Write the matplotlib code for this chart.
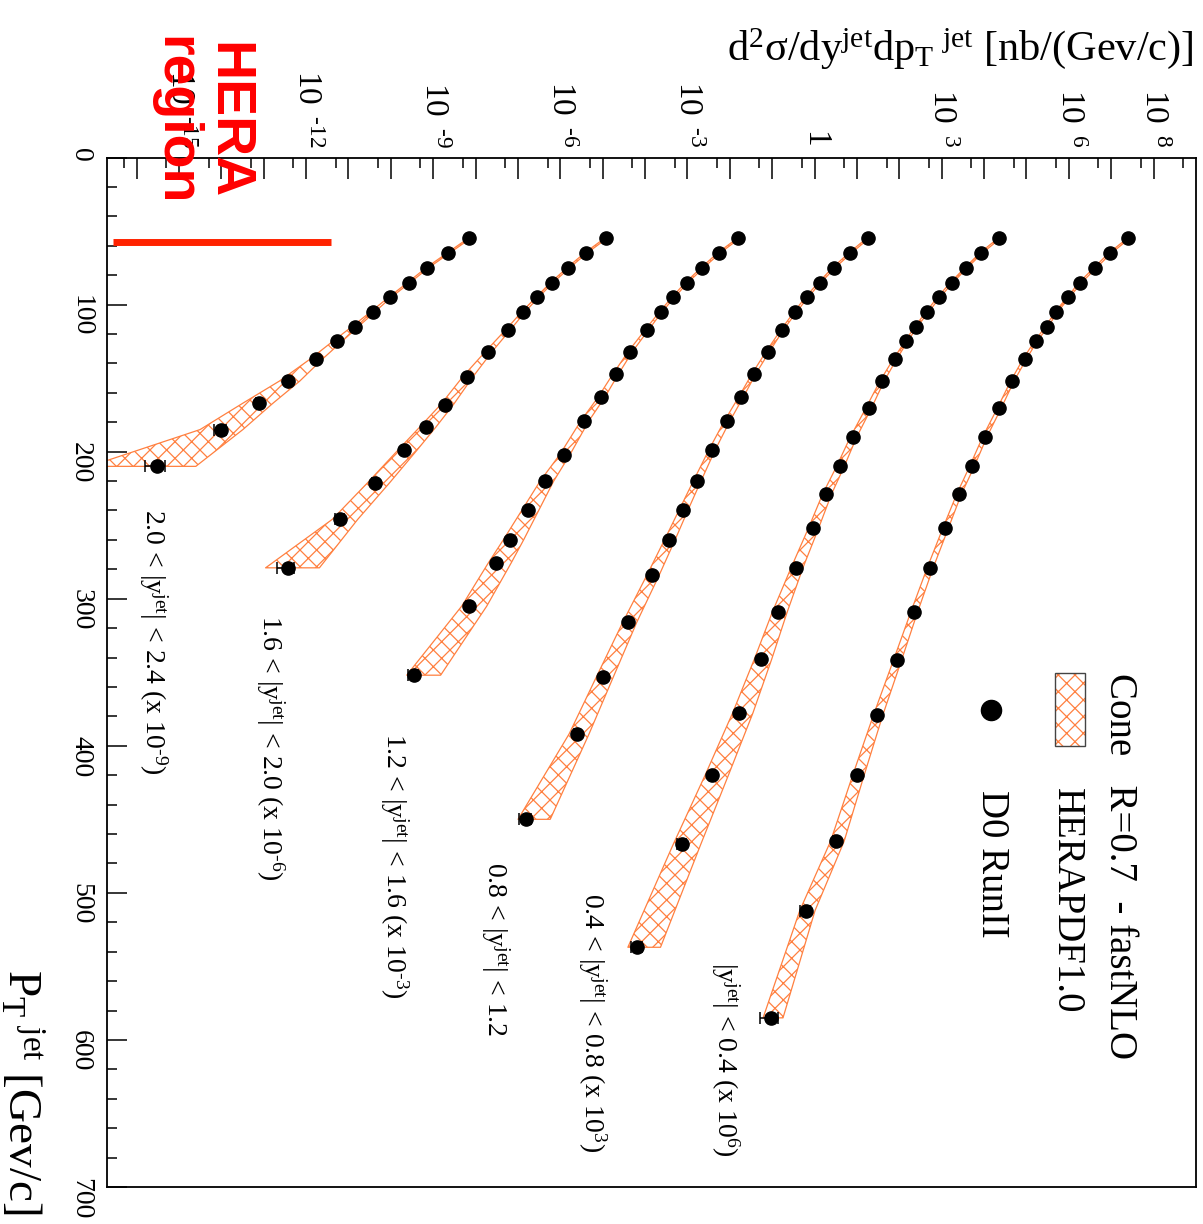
import numpy as np
import matplotlib
matplotlib.use('Agg')
import matplotlib.pyplot as plt
from matplotlib.ticker import FixedLocator, FuncFormatter, NullFormatter
from matplotlib.patches import Rectangle
from matplotlib.lines import Line2D

plt.rcParams['font.family'] = ['Liberation Serif', 'DejaVu Serif']
plt.rcParams['mathtext.fontset'] = 'custom'
plt.rcParams['mathtext.rm'] = 'Liberation Serif'
plt.rcParams['mathtext.it'] = 'Liberation Serif'
plt.rcParams['mathtext.default'] = 'regular'
plt.rcParams['hatch.linewidth'] = 0.9

# D0 Run II inclusive jet cross sections [nb/(GeV/c)], one set per |y| bin
pt_y1 = [55, 65, 75, 85, 95, 105, 115, 125, 137, 152, 170, 190, 210, 229, 252, 279, 309, 342, 379, 420, 465, 512, 585]
xs_y1 = [25.4, 9.38, 4.15, 1.87, 0.973, 0.507, 0.301, 0.165, 0.0910, 0.0463, 0.0229, 0.01035, 5.11e-3,
         2.52e-3, 1.22e-3, 5.21e-4, 2.19e-4, 8.67e-5, 3.02e-5, 1.02e-5, 3.2e-6, 6.17e-7, 9.2e-8]
err_y1 = [0.06] * 17 + [0.07, 0.08, 0.1, 0.14, 0.25, 0.45]
blo_y1 = [0.03] * 8 + [0.04, 0.04, 0.04, 0.05, 0.05, 0.05, 0.06, 0.06, 0.07, 0.08, 0.09, 0.11, 0.13, 0.14, 0.18]
bhi_y1 = [0.03] * 8 + [0.04, 0.04, 0.05, 0.05, 0.06, 0.06, 0.07, 0.08, 0.09, 0.11, 0.13, 0.16, 0.19, 0.22, 0.29]

pt_y2 = [55, 65, 75, 85, 95, 105, 115, 125, 137, 152, 170, 190, 210, 229, 252, 279, 309, 341, 378, 420, 467, 537]
xs_y2 = [22.5, 8.45, 3.74, 1.72, 0.851, 0.457, 0.247, 0.146, 0.0791, 0.0390, 0.0189, 8.2e-3, 3.97e-3,
         1.89e-3, 9.0e-4, 3.58e-4, 1.36e-4, 5.35e-5, 1.66e-5, 3.85e-6, 7.3e-7, 6.5e-8]
err_y2 = [0.06] * 16 + [0.07, 0.08, 0.1, 0.13, 0.24, 0.3]
blo_y2 = [0.03] * 8 + [0.04, 0.05, 0.06, 0.07, 0.08, 0.09, 0.1, 0.11, 0.13, 0.15, 0.16, 0.17, 0.2, 0.22]
bhi_y2 = [0.03] * 8 + [0.04, 0.05, 0.07, 0.08, 0.1, 0.12, 0.14, 0.17, 0.22, 0.26, 0.32, 0.38, 0.45, 0.55]

pt_y3 = [55, 65, 75, 85, 95, 105, 117, 132, 147, 163, 179, 199, 220, 240, 260, 284, 316, 353, 392, 450]
xs_y3 = [17.9, 6.84, 2.82, 1.32, 0.650, 0.351, 0.173, 0.0782, 0.0366, 0.0180, 8.57e-3, 3.72e-3, 1.65e-3,
         7.71e-4, 3.60e-4, 1.45e-4, 4.01e-5, 1.03e-5, 2.43e-6, 1.55e-7]
err_y3 = [0.06] * 15 + [0.07, 0.08, 0.1, 0.14, 0.3]
blo_y3 = [0.03] * 7 + [0.04, 0.04, 0.05, 0.06, 0.07, 0.08, 0.09, 0.1, 0.12, 0.13, 0.16, 0.18, 0.19]
bhi_y3 = [0.03] * 7 + [0.04, 0.05, 0.06, 0.07, 0.08, 0.1, 0.12, 0.15, 0.17, 0.2, 0.24, 0.29, 0.57]

pt_y4 = [55, 65, 75, 85, 95, 105, 117, 132, 147, 163, 179, 202, 220, 240, 260, 276, 305, 352]
xs_y4 = [15.8, 5.45, 2.24, 0.957, 0.462, 0.233, 0.111, 0.0447, 0.0202, 9.1e-3, 3.67e-3, 1.22e-3, 4.39e-4,
         1.69e-4, 6.5e-5, 2.97e-5, 6.97e-6, 3.5e-7]
err_y4 = [0.06] * 13 + [0.07, 0.08, 0.1, 0.13, 0.28]
blo_y4 = [0.03] * 6 + [0.04, 0.05, 0.06, 0.07, 0.08, 0.1, 0.12, 0.14, 0.16, 0.18, 0.17, 0.17]
bhi_y4 = [0.03] * 6 + [0.04, 0.05, 0.07, 0.09, 0.11, 0.14, 0.2, 0.26, 0.32, 0.36, 0.42, 0.63]

pt_y5 = [55, 65, 75, 85, 95, 105, 117, 132, 149, 168, 183, 199, 221, 246, 279]
xs_y5 = [11.7, 3.96, 1.54, 0.632, 0.285, 0.134, 0.0581, 0.0199, 6.15e-3, 1.89e-3, 6.62e-4, 2.07e-4,
         4.22e-5, 6.3e-6, 3.66e-7]
err_y5 = [0.06] * 10 + [0.08, 0.1, 0.14, 0.24, 0.45]
blo_y5 = [0.03] * 5 + [0.04, 0.05, 0.07, 0.09, 0.1, 0.13, 0.15, 0.17, 0.18, 0.52]
bhi_y5 = [0.03] * 5 + [0.04, 0.06, 0.09, 0.15, 0.2, 0.25, 0.3, 0.35, 0.42, 0.75]

pt_y6 = [55, 65, 75, 85, 95, 105, 115, 125, 137, 152, 167, 185, 210]
xs_y6 = [7.08, 2.26, 0.723, 0.267, 0.0953, 0.0372, 0.0142, 5.35e-3, 1.73e-3, 3.72e-4, 7.59e-5, 9.93e-6, 3.07e-7]
err_y6 = [0.06] * 8 + [0.08, 0.1, 0.15, 0.32, 0.5]
blo_y6 = [0.03] * 5 + [0.05, 0.07, 0.1, 0.14, 0.2, 0.37, 0.5, 1.6]
bhi_y6 = [0.03] * 5 + [0.05, 0.08, 0.12, 0.15, 0.28, 0.34, 0.51, 0.91]

scales = [1e6, 1e3, 1.0, 1e-3, 1e-6, 1e-9]
bin_labels = ['|y$^{jet}$| < 0.4 (x 10$^{6}$)',
              '0.4 < |y$^{jet}$| < 0.8 (x 10$^{3}$)',
              '0.8 < |y$^{jet}$| < 1.2',
              '1.2 < |y$^{jet}$| < 1.6 (x 10$^{\\text{-}3}$)',
              '1.6 < |y$^{jet}$| < 2.0 (x 10$^{\\text{-}6}$)',
              '2.0 < |y$^{jet}$| < 2.4 (x 10$^{\\text{-}9}$)']
# where each bin label starts: (baseline x, top y) in pixels
label_pos = [(717, 962), (584, 893), (487, 862), (386, 733), (262, 615), (145, 509)]

hera_x = [2.8e-17, 3.8e-12]
hera_pt = [57.3, 57.3]

band_col = '#ff8040'
W, H = 1203, 1224


def fx(x):
    return x / W


def fy(y):
    return 1 - y / H


fig = plt.figure(figsize=(W / 100, H / 100), dpi=100)
ax = fig.add_axes([fx(107), fy(1187), (1196 - 107) / W, (1187 - 157.5) / H])
ax.set_xscale('log')
ax.set_xlim(2e-17, 1e9)
ax.set_ylim(700, 0)

series = [
    (pt_y1, xs_y1, err_y1, blo_y1, bhi_y1),
    (pt_y2, xs_y2, err_y2, blo_y2, bhi_y2),
    (pt_y3, xs_y3, err_y3, blo_y3, bhi_y3),
    (pt_y4, xs_y4, err_y4, blo_y4, bhi_y4),
    (pt_y5, xs_y5, err_y5, blo_y5, bhi_y5),
    (pt_y6, xs_y6, err_y6, blo_y6, bhi_y6),
]

for (pt, xs, err, blo, bhi), sc in zip(series, scales):
    v = np.array(xs) * sc
    e = np.array(err)
    lo = v * 10.0 ** (-np.array(blo))
    hi = v * 10.0 ** np.array(bhi)
    # theory band (HERAPDF1.0), hatched
    ax.fill_betweenx(pt, lo, hi, facecolor='none', edgecolor=band_col,
                     hatch='xx', linewidth=0.9, zorder=2)
    ax.errorbar(v, pt, xerr=[v * e, v * e], fmt='o', color='black', ms=9.5,
                elinewidth=1.1, capsize=4, capthick=1.1, zorder=3)

ax.plot(hera_x, hera_pt, color='#ff2200', lw=5, solid_capstyle='butt', zorder=4)

# axis ticks: decades along the top, pT along the left
ax.xaxis.tick_top()
ax.xaxis.set_major_locator(FixedLocator([10.0 ** k for k in range(-16, 9)]))
ax.xaxis.set_minor_locator(FixedLocator([5 * 10.0 ** k for k in range(-17, 9)]))
shown = {-15: '10$^{\\ \\ \\text{-}15}$', -12: '10$^{\\ \\ \\text{-}12}$', -9: '10$^{\\ \\ \\text{-}9}$',
         -6: '10$^{\\ \\ \\text{-}6}$', -3: '10$^{\\ \\ \\text{-}3}$', 0: '1',
         3: '10$^{\\ \\ 3}$', 6: '10$^{\\ \\ 6}$', 8: '10$^{\\ \\ 8}$'}
ax.xaxis.set_major_formatter(FuncFormatter(lambda x, p: shown.get(int(round(np.log10(x))), '')))
ax.xaxis.set_minor_formatter(NullFormatter())
ax.yaxis.set_major_locator(FixedLocator(range(0, 701, 100)))
ax.yaxis.set_minor_locator(FixedLocator(range(0, 701, 20)))

ax.tick_params(axis='x', which='both', direction='in', top=True, bottom=False,
               labeltop=True, labelbottom=False, labelrotation=-90, labelsize=24, pad=7, width=1.1)
ax.tick_params(axis='y', which='both', direction='in', left=True, right=False,
               labelrotation=-90, labelsize=20, pad=10, width=1.1)
ax.tick_params(axis='x', which='major', length=15)
ax.tick_params(axis='x', which='minor', length=7.5)
ax.tick_params(axis='y', which='major', length=14.5)
ax.tick_params(axis='y', which='minor', length=7.5)
for s in ax.spines.values():
    s.set_linewidth(1.3)

# rapidity bin labels
for txt, (bx, by) in zip(bin_labels, label_pos):
    fig.text(fx(bx), fy(by), txt, rotation=-90, rotation_mode='anchor',
             ha='left', va='baseline', fontsize=20)

# axis titles
fig.text(fx(1194), fy(60), 'd$^{2}$σ/dy$^{jet}$dp$_{T}$$^{\\ jet}$ [nb/(Gev/c)]',
         ha='right', va='baseline', fontsize=30.5)
fig.text(fx(8), fy(1215), 'P$_{T}$$^{\\ jet}$ [Gev/c]', rotation=-90, rotation_mode='anchor',
         ha='right', va='baseline', fontsize=34)

# legend
fig.text(fx(1110), fy(673), 'Cone   R=0.7  - fastNLO', rotation=-90, rotation_mode='anchor',
         ha='left', va='baseline', fontsize=28)
fig.text(fx(1057), fy(788), 'HERAPDF1.0', rotation=-90, rotation_mode='anchor',
         ha='left', va='baseline', fontsize=28)
fig.text(fx(982), fy(790), 'D0 RunII', rotation=-90, rotation_mode='anchor',
         ha='left', va='baseline', fontsize=28)
fig.add_artist(Rectangle((fx(1055), fy(746)), 30 / W, 73 / H, transform=fig.transFigure,
                         facecolor='white', edgecolor=band_col, hatch='xx', lw=0))
fig.add_artist(Rectangle((fx(1055), fy(746)), 30 / W, 73 / H, transform=fig.transFigure,
                         facecolor='none', edgecolor='#444444', lw=1.0))
fig.add_artist(Line2D([fx(991)], [fy(710)], transform=fig.transFigure, marker='o',
                      color='black', ms=14.5, ls='none'))

# HERA region
fig.text(fx(213), fy(121), 'HERA', rotation=-90, rotation_mode='anchor', ha='center',
         va='baseline', fontsize=40, fontweight='bold', color='red', family='Liberation Sans')
fig.text(fx(160), fy(121), 'region', rotation=-90, rotation_mode='anchor', ha='center',
         va='baseline', fontsize=40, fontweight='bold', color='red', family='Liberation Sans')

fig.savefig('out.png', dpi=100)
